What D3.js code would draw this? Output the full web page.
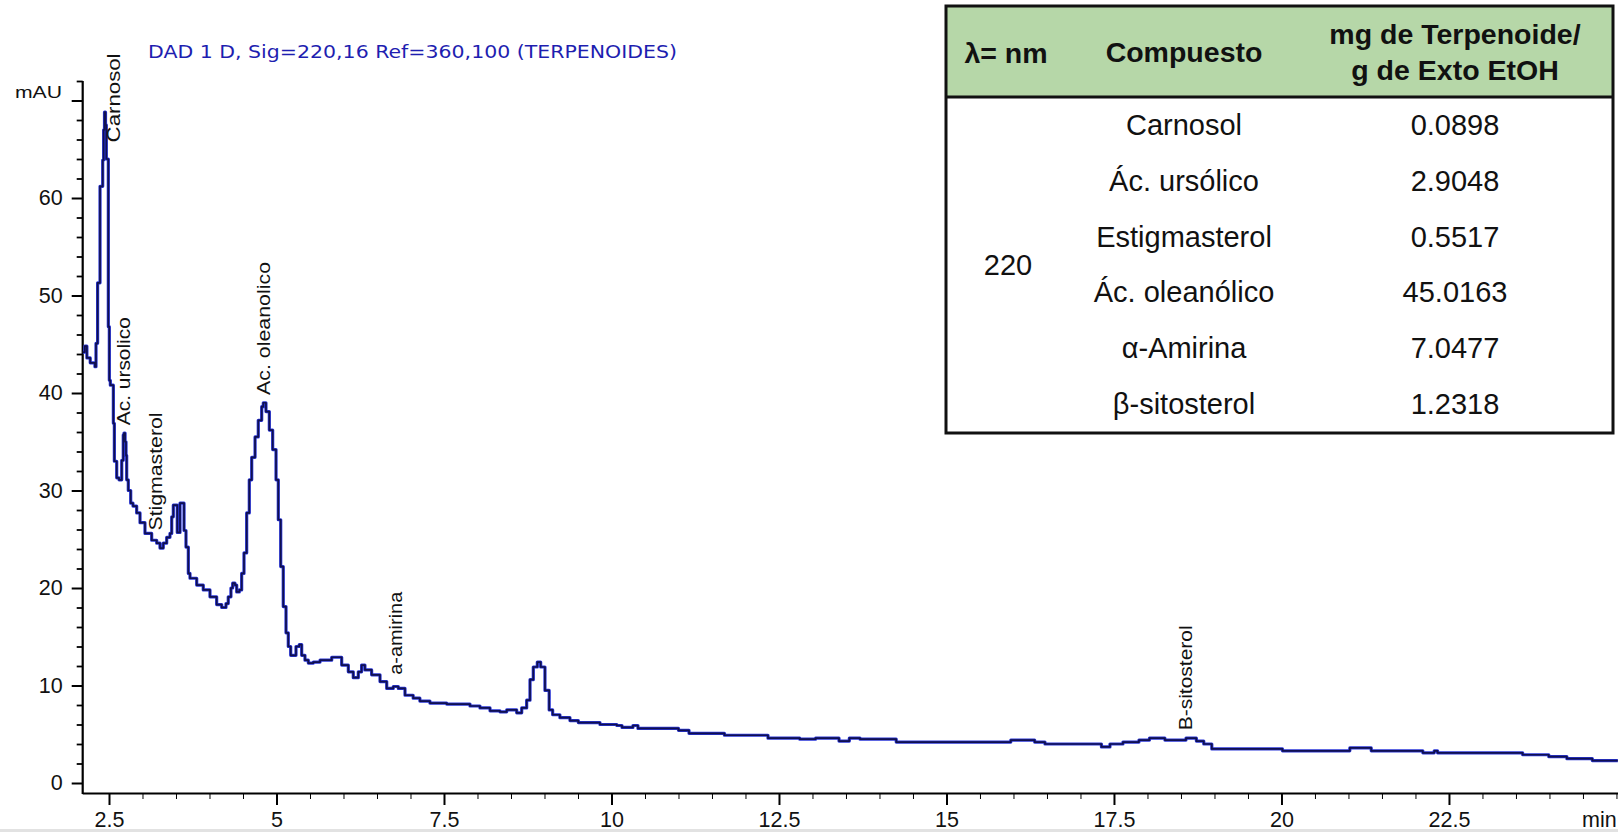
<!doctype html>
<html lang="es">
<head>
<meta charset="utf-8">
<title>Cromatograma terpenoides</title>
<script src="https://cdn.jsdelivr.net/npm/d3@7"></script>
<style>
  body { margin: 0; background: #fff; }
  svg { display: block; font-family: "Liberation Sans", Arial, sans-serif; }
</style>
</head>
<body>
<div id="chart"></div>
<script>
// Cromatograma DAD 220 nm (min, mAU)
const timeMin = [2.11, 2.14, 2.17, 2.22, 2.29, 2.306, 2.33, 2.366, 2.406, 2.42, 2.433, 2.448, 2.46, 2.49, 2.505,
  2.52, 2.565, 2.58, 2.615, 2.65, 2.69, 2.713, 2.724, 2.74, 2.754, 2.764, 2.788, 2.824, 2.858, 2.913, 2.963,
  3.037, 3.137, 3.212, 3.261, 3.31, 3.361, 3.41, 3.436, 3.46, 3.519, 3.56, 3.62, 3.649, 3.684, 3.709, 3.809,
  3.907, 4.007, 4.107, 4.182, 4.246, 4.28, 4.32, 4.346, 4.38, 4.406, 4.445, 4.48, 4.515, 4.555, 4.594, 4.63,
  4.68, 4.728, 4.779, 4.803, 4.843, 4.893, 4.943, 4.993, 5.027, 5.063, 5.101, 5.142, 5.176, 5.212, 5.291,
  5.34, 5.376, 5.425, 5.475, 5.55, 5.65, 5.824, 5.973, 6.072, 6.146, 6.221, 6.27, 6.32, 6.42, 6.545, 6.645,
  6.743, 6.818, 6.918, 7.04, 7.14, 7.29, 7.54, 7.888, 8.037, 8.187, 8.336, 8.436, 8.585, 8.66, 8.734, 8.784,
  8.833, 8.893, 8.943, 9.007, 9.07, 9.122, 9.23, 9.38, 9.505, 9.828, 10.08, 10.157, 10.32, 10.395, 11.0,
  11.157, 11.686, 12.336, 12.81, 13.046, 13.396, 13.55, 13.71, 14.25, 15.96, 16.316, 16.47, 17.313, 17.44,
  17.634, 17.873, 18.03, 18.26, 18.575, 18.73, 18.84, 18.96, 20.015, 21.02, 21.34, 22.11, 22.28, 22.33,
  23.6, 23.99, 24.26, 24.64, 25.02];
const mAU = [44.2, 44.8, 43.6, 43.1, 42.7, 45.1, 51.3, 61.2, 63.9, 67.0, 68.8, 67.5, 64.0, 46.8, 41.3,
  40.8, 36.9, 33.0, 31.3, 31.1, 33.1, 35.7, 35.9, 35.0, 33.6, 31.1, 30.0, 28.7, 28.4, 27.7, 26.7,
  25.6, 24.9, 24.6, 24.1, 24.6, 25.2, 25.6, 27.3, 28.5, 25.7, 28.7, 25.9, 24.2, 21.5, 21.0, 20.3,
  19.8, 19.1, 18.3, 18.0, 18.4, 19.1, 20.0, 20.5, 20.3, 19.6, 19.8, 21.5, 23.6, 27.7, 31.1, 33.4,
  35.5, 37.2, 38.6, 39.0, 38.1, 36.2, 34.2, 31.1, 27.0, 22.2, 18.1, 15.4, 14.0, 13.1, 14.0,
  14.2, 13.1, 12.6, 12.3, 12.4, 12.6, 12.9, 12.1, 11.4, 10.8, 11.4, 12.1, 11.6, 11.1, 10.4, 9.7,
  9.9, 9.7, 9.0, 8.7, 8.4, 8.2, 8.1, 7.9, 7.7, 7.4, 7.3, 7.5, 7.2, 7.7, 8.5, 10.6,
  11.9, 12.4, 11.9, 9.5, 7.5, 7.0, 6.7, 6.4, 6.2, 6.0, 5.9, 5.7, 5.9, 5.6, 5.4,
  5.1, 4.9, 4.6, 4.5, 4.6, 4.3, 4.6, 4.5, 4.2, 4.4, 4.2, 4.0, 3.7, 4.0,
  4.2, 4.4, 4.6, 4.4, 4.6, 4.3, 4.0, 3.5, 3.3, 3.6, 3.3, 3.1, 3.3, 3.1,
  2.9, 2.7, 2.5, 2.3, 2.3];

// etiquetas de picos: nombre, tiempo y nivel (mAU) donde empieza el texto
const peakNames = ["Carnosol", "Ac. ursolico", "Stigmasterol", "Ac. oleanolico", "a-amirina", "B-sitosterol"];
const peakTimes = [2.575, 2.724, 3.2, 4.813, 6.784, 18.575];
const peakLevels = [65.7, 36.7, 25.9, 39.8, 11.1, 5.4];
const peakLabelLen = [89, 108, 118, 133, 83, 105];

const xMajor = [2.5, 5, 7.5, 10, 12.5, 15, 17.5, 20, 22.5];
const yMajor = [0, 10, 20, 30, 40, 50, 60, 70];

// tabla de resultados
const headerCols = ["λ= nm", "Compuesto", "mg de Terpenoide/"];
const headerCol3b = "g de Exto EtOH";
const wavelength = "220";
const compuestos = ["Carnosol", "Ác. ursólico", "Estigmasterol", "Ác. oleanólico", "α-Amirina", "β-sitosterol"];
const mgTerpenoide = [0.0898, 2.9048, 0.5517, 45.0163, 7.0477, 1.2318];

const W = 1618, H = 832;
const svg = d3.select("#chart").append("svg").attr("width", W).attr("height", H);

const x = d3.scaleLinear().domain([2.1, 25.02]).range([82.2, 1617.8]);
const y = d3.scaleLinear().domain([0, 72]).range([783, 81]);
const axisY = 793;

// titulo
svg.append("text")
  .attr("x", 148).attr("y", 58)
  .attr("font-family", "DejaVu Sans, Verdana, sans-serif")
  .attr("font-size", 17.5)
  .attr("textLength", 529).attr("lengthAdjust", "spacingAndGlyphs")
  .attr("fill", "#1e1eb0")
  .text("DAD 1 D, Sig=220,16 Ref=360,100 (TERPENOIDES)");

// eje X
const minorX = d3.range(2.5, 25.01, 0.5).filter(d => xMajor.indexOf(d) < 0);
svg.append("g")
  .attr("transform", "translate(0," + axisY + ")")
  .call(d3.axisBottom(x).tickValues(minorX).tickSize(6).tickSizeOuter(0).tickFormat(""))
  .call(g => g.select(".domain").attr("stroke-width", 2.2));
const gx = svg.append("g")
  .attr("transform", "translate(0," + axisY + ")")
  .call(d3.axisBottom(x).tickValues(xMajor).tickSize(12).tickSizeOuter(0).tickPadding(7)
    .tickFormat(d => String(d)));
gx.select(".domain").remove();
gx.selectAll("line").attr("stroke-width", 2);
gx.selectAll("text").attr("font-size", 21.5).attr("font-family", "Liberation Sans, Arial").attr("fill", "#111");

svg.append("text")
  .attr("x", 1582).attr("y", 827)
  .attr("font-size", 21.5).attr("fill", "#111")
  .text("min");

// eje Y
svg.append("line")
  .attr("x1", x(2.1) + 0.5).attr("x2", x(2.1) + 0.5)
  .attr("y1", axisY + 1).attr("y2", y(72))
  .attr("stroke", "#000").attr("stroke-width", 2.2);
const minorY = d3.range(0, 72.1, 2).filter(d => d % 10 !== 0);
const gyMinor = svg.append("g")
  .attr("transform", "translate(" + (x(2.1) + 0.5) + ",0)")
  .call(d3.axisLeft(y).tickValues(minorY).tickSize(6).tickFormat(""));
gyMinor.select(".domain").remove();
gyMinor.selectAll("line").attr("stroke-width", 1.8);
const gy = svg.append("g")
  .attr("transform", "translate(" + (x(2.1) + 0.5) + ",0)")
  .call(d3.axisLeft(y).tickValues(yMajor).tickSize(11).tickPadding(9)
    .tickFormat(d => d === 70 ? "" : String(d)));
gy.select(".domain").remove();
gy.selectAll("line").attr("stroke-width", 2);
gy.selectAll("text").attr("font-size", 21.5).attr("font-family", "Liberation Sans, Arial").attr("fill", "#111");

svg.append("text")
  .attr("x", 15).attr("y", 98)
  .attr("font-size", 17).attr("textLength", 47).attr("lengthAdjust", "spacingAndGlyphs")
  .attr("fill", "#111")
  .text("mAU");

// traza
const pts = timeMin.map((t, i) => [t, mAU[i]]);
const line = d3.line().x(d => x(d[0])).y(d => y(d[1])).curve(d3.curveStepAfter);
svg.append("path").datum(pts)
  .attr("d", line).attr("fill", "none")
  .attr("stroke", "#2a36d8").attr("stroke-width", 3.2).attr("stroke-linejoin", "round");
svg.append("path").datum(pts)
  .attr("d", line).attr("fill", "none")
  .attr("stroke", "#10104e").attr("stroke-width", 1.7).attr("stroke-linejoin", "round");

// etiquetas verticales de picos
peakNames.forEach((name, i) => {
  svg.append("text")
    .attr("transform", "translate(" + x(peakTimes[i]) + "," + y(peakLevels[i]) + ") rotate(-90)")
    .attr("dy", "0.35em")
    .attr("font-size", 18)
    .attr("textLength", peakLabelLen[i]).attr("lengthAdjust", "spacingAndGlyphs")
    .attr("fill", "#111")
    .text(name);
});

// tabla
const tbl = svg.append("g");
const tx0 = 946, tx1 = 1613, ty0 = 6, tyH = 97, ty1 = 433;
tbl.append("rect")
  .attr("x", tx0).attr("y", ty0).attr("width", tx1 - tx0).attr("height", tyH - ty0)
  .attr("fill", "#b6d7a8");
tbl.append("rect")
  .attr("x", tx0).attr("y", ty0).attr("width", tx1 - tx0).attr("height", ty1 - ty0)
  .attr("fill", "none").attr("stroke", "#111").attr("stroke-width", 3);
tbl.append("line")
  .attr("x1", tx0).attr("x2", tx1).attr("y1", tyH).attr("y2", tyH)
  .attr("stroke", "#111").attr("stroke-width", 3);

const colX = [1006, 1184, 1455];
tbl.append("text").attr("x", colX[0]).attr("y", 63).text(headerCols[0]);
tbl.append("text").attr("x", colX[1]).attr("y", 62).text(headerCols[1]);
tbl.append("text").attr("x", colX[2]).attr("y", 44).text(headerCols[2]);
tbl.append("text").attr("x", colX[2]).attr("y", 80).text(headerCol3b);
tbl.selectAll("text")
  .attr("text-anchor", "middle").attr("font-weight", "bold")
  .attr("font-size", 28.5).attr("fill", "#111");

const rowY = d3.scaleLinear().domain([0, 5]).range([135, 414]);
const fmt = d3.format(".4f");
tbl.append("text")
  .attr("x", 1008).attr("y", 275)
  .attr("text-anchor", "middle").attr("font-size", 29).attr("fill", "#111")
  .text(wavelength);
compuestos.forEach((c, i) => {
  tbl.append("text")
    .attr("x", colX[1]).attr("y", rowY(i))
    .attr("text-anchor", "middle").attr("font-size", 29).attr("fill", "#111")
    .text(c);
  tbl.append("text")
    .attr("x", colX[2]).attr("y", rowY(i))
    .attr("text-anchor", "middle").attr("font-size", 29).attr("fill", "#111")
    .text(fmt(mgTerpenoide[i]));
});

// franja gris inferior de la captura
svg.append("rect").attr("x", 0).attr("y", 829).attr("width", W).attr("height", 3).attr("fill", "#e2e2e2");
</script>
</body>
</html>
